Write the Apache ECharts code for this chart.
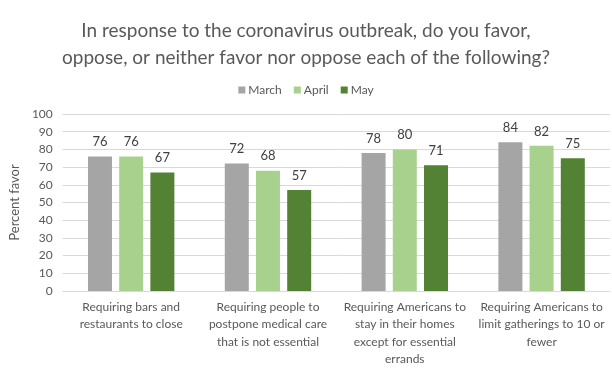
<!DOCTYPE html>
<html><head><meta charset="utf-8">
<script src="https://cdn.jsdelivr.net/npm/echarts@6/dist/echarts.min.js"></script>
<style>html,body{margin:0;padding:0;background:#fff}#c{width:612px;height:374px}</style>
</head><body><div id="c"></div>
<script>
const categories = [
  "Requiring bars and\nrestaurants to close",
  "Requiring people to\npostpone medical care\nthat is not essential",
  "Requiring Americans to\nstay in their homes\nexcept for essential\nerrands",
  "Requiring Americans to\nlimit gatherings to 10 or\nfewer"
];
const seriesNames = ["March", "April", "May"];
const march = [76, 72, 78, 84];
const april = [76, 68, 80, 82];
const may = [67, 57, 71, 75];
const colors = ["#A5A5A5", "#A9D18E", "#548235"];
const font = "Lato, 'Open Sans', sans-serif";

const chart = echarts.init(document.getElementById('c'));
const mk = (name, data, color) => ({
  name, type: 'bar', data, barWidth: 24, barGap: '30%',
  itemStyle: { color },
  label: { show: true, position: 'top', distance: 8, color: '#404040', fontSize: 13, fontFamily: font }
});
chart.setOption({
  animation: false,
  textStyle: { fontFamily: font },
  title: {
    text: "In response to the coronavirus outbreak, do you favor,\noppose, or neither favor nor oppose each of the following?",
    left: 'center', top: 12,
    textStyle: { fontSize: 19, fontWeight: 'normal', color: '#595959', lineHeight: 27, fontFamily: font }
  },
  legend: {
    top: 79, left: 'center', itemWidth: 7, itemHeight: 7, itemGap: 12,
    icon: 'rect',
    textStyle: { fontSize: 12, color: '#595959', fontFamily: font, padding: [0, 0, 0, -2] },
    data: seriesNames
  },
  grid: { left: 60, right: 2, top: 114, bottom: 83 },
  xAxis: {
    type: 'category', data: categories,
    axisLine: { lineStyle: { color: '#D9D9D9' } },
    axisTick: { show: false },
    axisLabel: { interval: 0, color: '#595959', fontSize: 12, lineHeight: 17.5, margin: 7, fontFamily: font }
  },
  yAxis: {
    type: 'value', min: 0, max: 100, interval: 10,
    name: 'Percent favor', nameLocation: 'middle', nameGap: 34,
    nameTextStyle: { fontSize: 13, color: '#595959', fontFamily: font },
    axisLabel: { color: '#595959', fontSize: 12, margin: 10, fontFamily: font },
    axisLine: { show: false }, axisTick: { show: false },
    splitLine: { lineStyle: { color: '#D9D9D9' } }
  },
  series: [mk(seriesNames[0], march, colors[0]), mk(seriesNames[1], april, colors[1]), mk(seriesNames[2], may, colors[2])]
});
</script></body></html>
